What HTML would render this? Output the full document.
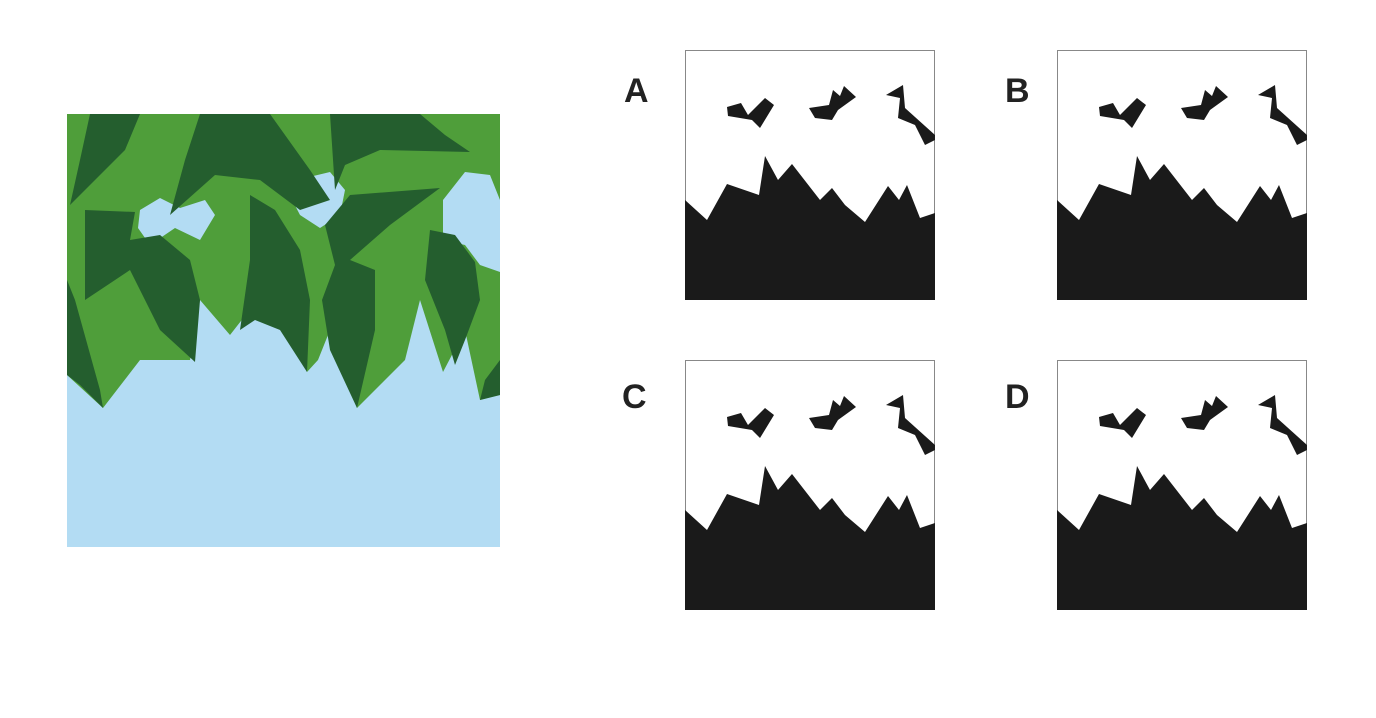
<!DOCTYPE html>
<html><head><style>
body{margin:0;background:#fff;width:1376px;height:718px;overflow:hidden;}
svg{display:block}
text{font-family:"Liberation Sans",sans-serif;font-weight:bold;font-size:34px;fill:#222}
</style></head><body>
<svg width="1376" height="718" viewBox="0 0 1376 718">
<defs>
<g id="p">
<rect x="0.5" y="0.5" width="249" height="249" fill="#fff" stroke="#888" stroke-width="1"/>
<polygon fill="#1a1a1a" points="0,150 22,170 42,134 74,145 80,106 93,130 107,114 135,150 147,138 160,155 180,172 203,136 214,150 222,135 235,168 250,163 250,250 0,250"/>
<polygon fill="#1a1a1a" points="42,57 56,53 63,65 80,48 89,55 75,78 67,70 43,66"/>
<polygon fill="#1a1a1a" points="124,58 144,55 148,40 155,46 159,36 171,47 153,60 147,70 130,68"/>
<polygon fill="#1a1a1a" points="201,45 218,35 220,58 250,85 250,90 240,95 230,75 213,68 215,48"/>
</g>
</defs>
<!-- leaves image -->
<rect x="67" y="114" width="433" height="433" fill="#b3dcf3"/>
<polygon fill="#4f9e3a" points="67,114 500,114 500,395 480,400 465,330 443,372 420,300 405,360 357,408 330,330 318,360 307,372 270,290 248,312 230,335 200,300 190,360 140,360 103,408 67,375"/>
<polygon fill="#b3dcf3" points="140,210 160,198 180,208 205,200 215,215 200,240 175,228 150,245 138,228"/>
<polygon fill="#b3dcf3" points="287,190 305,178 330,172 345,190 340,215 320,228 300,215"/>
<polygon fill="#b3dcf3" points="443,200 465,172 490,175 500,200 500,272 480,265 465,245 443,240"/>
<g fill="#245e2e">
<polygon points="90,114 140,114 125,150 70,205 80,160"/>
<polygon points="200,114 270,114 310,170 330,200 300,210 260,180 215,175 170,215 185,160"/>
<polygon points="330,114 420,114 445,135 470,152 380,150 345,165 335,190"/>
<polygon points="85,210 135,212 130,240 160,235 190,260 200,300 195,362 160,330 130,270 85,300"/>
<polygon points="67,280 75,300 100,390 103,408 80,385 67,375"/>
<polygon points="250,195 275,210 300,250 310,300 307,372 280,330 255,320 240,330 250,260"/>
<polygon points="325,225 350,195 440,188 390,225 350,260 375,270 375,330 357,408 330,350 322,300 335,265"/>
<polygon points="430,230 455,235 475,262 480,300 465,340 455,365 445,330 425,280"/>
<polygon points="485,380 500,360 500,395 480,400"/>
</g>
<!-- panels -->
<use href="#p" x="685" y="50"/>
<use href="#p" x="1057" y="50"/>
<use href="#p" x="685" y="360"/>
<use href="#p" x="1057" y="360"/>
<text x="624" y="102">A</text>
<text x="1005" y="102">B</text>
<text x="622" y="408">C</text>
<text x="1005" y="408">D</text>
</svg>
</body></html>
